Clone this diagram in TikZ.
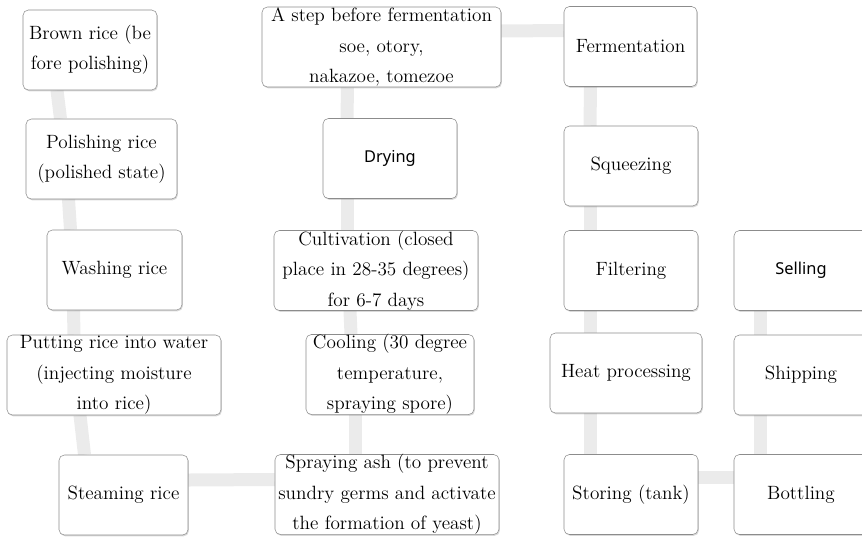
\documentclass[tikz,border=0pt]{standalone}
\usepackage{fontspec}
\newfontfamily\gothic{Noto Sans}
\usetikzlibrary{shadows,backgrounds}

\begin{document}
\begin{tikzpicture}[x=.75pt, y=-.75pt,
  stage/.style={draw=black!45, fill=white, rounded corners=4pt, minimum height=60pt,
    inner xsep=2pt, inner ysep=0pt, align=center, font=\fontsize{14.4}{22.8}\selectfont,
    drop shadow={shadow xshift=.7pt, shadow yshift=-1pt, opacity=.3}},
  gothic/.style={font=\gothic\fontsize{12.3}{14}\selectfont},
  band/.style={line width=9.75pt, black!8}]

\useasboundingbox (0,0) rectangle (862,536);

% first column, going down
\node[stage, minimum width=100.5pt] (brown) at (90,50) {Brown rice (be\\fore polishing)};
\node[stage, minimum width=113.25pt] (polish) at (101.5,159) {Polishing rice\\(polished state)};
\node[stage, minimum width=101.25pt] (wash) at (114.5,270) {Washing rice};
\node[stage, minimum width=160.5pt] (soak) at (114,375) {Putting rice into water\\(injecting moisture\\into rice)};
\node[stage, minimum width=96.75pt] (steam) at (123.5,495) {Steaming rice};

% second column, going up
\node[stage, minimum width=168pt] (ash) at (387,494.5) {Spraying ash (to prevent\\sundry germs and activate\\the formation of yeast)};
\node[stage, minimum width=126pt] (cool) at (390,374.5) {Cooling (30 degree\\temperature,\\spraying spore)};
\node[stage, minimum width=153pt] (cult) at (376,270.5) {Cultivation (closed\\place in 28-35 degrees)\\for 6-7 days};
\node[stage, gothic, minimum width=100.5pt] (dry) at (390,158.5) {Drying};
\node[stage, minimum width=179.25pt] (prep) at (381.5,47) {A step before fermentation\\soe, otory,\\nakazoe, tomezoe};

% third column, going down
\node[stage, minimum width=99.75pt] (ferm) at (630.5,46.5) {Fermentation};
\node[stage, minimum width=100.5pt] (squeeze) at (631,166) {Squeezing};
\node[stage, minimum width=100.5pt] (filter) at (631,270.5) {Filtering};
\node[stage, minimum width=114pt] (heat) at (626,373) {Heat processing};
\node[stage, minimum width=100.5pt] (tank) at (631,494.5) {Storing (tank)};

% fourth column, going up
\node[stage, minimum width=100.5pt] (bottle) at (801,494.5) {Bottling};
\node[stage, minimum width=100.5pt] (ship) at (801,375) {Shipping};
\node[stage, gothic, minimum width=100.5pt] (sell) at (801,270.5) {Selling};

\begin{scope}[on background layer]
\draw[band] ([xshift=-24.75pt]brown.south) -- ([xshift=-30.75pt]polish.north);
\draw[band] ([xshift=-24.75pt]polish.south) -- ([xshift=-33pt]wash.north);
\draw[band] ([xshift=-30.75pt]wash.south) -- ([xshift=-30pt]soak.north);
\draw[band] ([xshift=-25.5pt]soak.south) -- ([xshift=-29.25pt]steam.north);
\draw[band] ([yshift=11.25pt]steam.east) -- ([yshift=11.25pt]ash.west);

\draw[band] ([xshift=-24pt]ash.north) -- ([xshift=-26.25pt]cool.south);
\draw[band] ([xshift=-29.25pt]cool.north) -- ([xshift=-19.5pt]cult.south);
\draw[band] ([xshift=-21.75pt]cult.north) -- ([xshift=-32.25pt]dry.south);
\draw[band] ([xshift=-32.25pt]dry.north) -- ([xshift=-25.5pt]prep.south);
\draw[band] ([yshift=12pt]prep.east) -- ([yshift=12pt]ferm.west);

\draw[band] ([xshift=-30pt]ferm.south) -- ([xshift=-30.75pt]squeeze.north);
\draw[band] ([xshift=-30.75pt]squeeze.south) -- ([xshift=-30.75pt]filter.north);
\draw[band] ([xshift=-30.75pt]filter.south) -- ([xshift=-27pt]heat.north);
\draw[band] ([xshift=-27pt]heat.south) -- ([xshift=-30.75pt]tank.north);
\draw[band] ([yshift=12.75pt]tank.east) -- ([yshift=12.75pt]bottle.west);

\draw[band] ([xshift=-30.75pt]bottle.north) -- ([xshift=-30.75pt]ship.south);
\draw[band] ([xshift=-30.75pt]ship.north) -- ([xshift=-30.75pt]sell.south);
\end{scope}

\end{tikzpicture}
\end{document}
